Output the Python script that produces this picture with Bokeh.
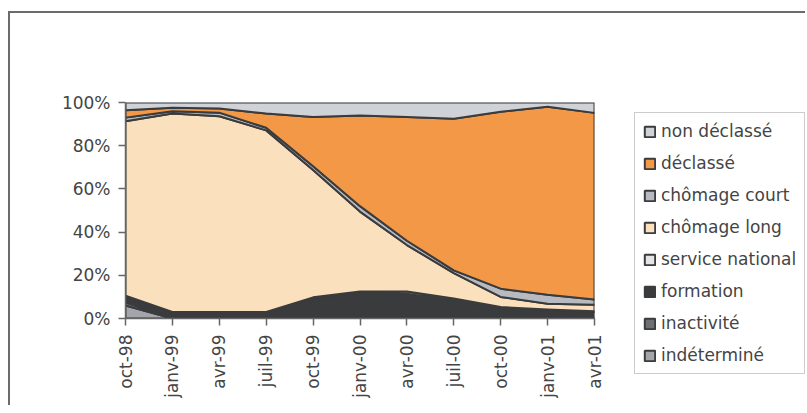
from math import pi
from bokeh.plotting import figure
from bokeh.layouts import row
from bokeh.models import Legend, LegendItem, FixedTicker
from bokeh.embed import file_html
from bokeh.resources import INLINE

dates = ["oct-98", "janv-99", "avr-99", "juil-99", "oct-99", "janv-00",
         "avr-00", "juil-00", "oct-00", "janv-01", "avr-01"]

# percentages, bottom of stack first
indetermine      = [6.0, 0, 0, 0, 0, 0, 0, 0.5, 0, 0, 0]
inactivite       = [1.5, 0, 0, 0, 0, 0, 0, 0.5, 0, 0, 0]
formation        = [2.5, 3.0, 3.0, 3.0, 9.5, 12.0, 11.5, 7.5, 5.0, 4.0, 3.0]
service_national = [0.5, 0, 0, 0, 0.3, 0.5, 1.0, 0.8, 0.3, 0.2, 0.3]
chomage_long     = [80.8, 91.9, 90.6, 84.1, 59.0, 37.0, 21.5, 11.7, 4.7, 2.6, 3.1]
chomage_court    = [1.7, 1.1, 1.7, 1.2, 1.7, 2.5, 2.0, 1.3, 3.8, 4.2, 2.4]
declasse         = [3.4, 1.6, 1.9, 6.6, 22.8, 42.0, 57.3, 70.2, 81.9, 87.0, 86.4]
non_declasse     = [3.6, 2.4, 2.8, 5.1, 6.7, 6.0, 6.7, 7.5, 4.3, 2.0, 4.8]

names = ["indéterminé", "inactivité", "formation", "service national",
         "chômage long", "chômage court", "déclassé", "non déclassé"]
values = [indetermine, inactivite, formation, service_national,
          chomage_long, chomage_court, declasse, non_declasse]
colors = ["#a3a5aa", "#6e6f72", "#3a3b3d", "#e4e4e6",
          "#fbe0bd", "#b7bbc1", "#f39847", "#cfd2d7"]

FONT = "DejaVu Sans"
TXT = "#444444"
EDGE = "#3a3b3d"

x = list(range(len(dates)))

p = figure(width=600, height=392, output_backend="svg", toolbar_location=None,
           x_range=(0, len(dates) - 1), y_range=(0, 1),
           min_border_left=115, min_border_right=16,
           min_border_top=89, min_border_bottom=87)
p.background_fill_color = "white"
p.border_fill_color = "white"
p.outline_line_color = None
p.grid.visible = False

bottom = [0.0] * len(dates)
for name, vals, col in zip(names, values, colors):
    top = [b + v / 100.0 for b, v in zip(bottom, vals)]
    xs = x + x[::-1]
    ys = top + bottom[::-1]
    p.patch(xs, ys, fill_color=col, line_color=EDGE, line_width=2,
            line_join="round")
    bottom = top

for ax in (p.xaxis[0], p.yaxis[0]):
    ax.axis_line_color = "#666666"
    ax.axis_line_width = 1.5
    ax.major_tick_line_color = "#666666"
    ax.major_tick_line_width = 1.5
    ax.major_tick_in = 0
    ax.major_tick_out = 7
    ax.minor_tick_line_color = None
    ax.major_label_text_font = FONT
    ax.major_label_text_font_size = "17px"
    ax.major_label_text_color = TXT
p.yaxis.major_label_standoff = 8
p.xaxis.major_label_standoff = 9

p.yaxis.ticker = FixedTicker(ticks=[0, 0.2, 0.4, 0.6, 0.8, 1.0])
p.yaxis.major_label_overrides = {0: "0%", 0.2: "20%", 0.4: "40%",
                                 0.6: "60%", 0.8: "80%", 1.0: "100%", 1: "100%"}
p.xaxis.ticker = FixedTicker(ticks=x)
p.xaxis.major_label_overrides = {i: d for i, d in enumerate(dates)}
p.xaxis.major_label_orientation = pi / 2

# legend panel (separate canvas to the right of the chart)
p2 = figure(width=195, height=392, output_backend="svg", toolbar_location=None,
            x_range=(0, 1), y_range=(0, 1), frame_align=False,
            min_border_left=0, min_border_right=0,
            min_border_top=0, min_border_bottom=0)
p2.axis.visible = False
p2.grid.visible = False
p2.outline_line_color = None
p2.background_fill_color = "white"
p2.border_fill_color = "white"

items = []
for name, col in reversed(list(zip(names, colors))):
    # swatch renderer kept outside the visible range; only its legend glyph shows
    r = p2.patch([5, 6, 6], [5, 5, 6], fill_color=col, line_color=EDGE,
                 line_width=2)
    items.append(LegendItem(label=name, renderers=[r]))

legend = Legend(items=items, location=(24, 31), orientation="vertical",
                label_text_font=FONT, label_text_font_size="17px",
                label_text_color=TXT, glyph_width=13, glyph_height=13,
                label_height=20, label_standoff=5, padding=8, spacing=12,
                margin=0, border_line_color="#999999", border_line_width=1.5,
                background_fill_color="white", background_fill_alpha=1.0)
p2.add_layout(legend, "center")

layout = row(p, p2, spacing=0)
layout.styles = {"margin-top": "11px", "margin-left": "8px",
                 "border-left": "2px solid #6b6b6b",
                 "border-top": "2px solid #6b6b6b"}

open("out.html", "w").write(file_html(layout, INLINE))
